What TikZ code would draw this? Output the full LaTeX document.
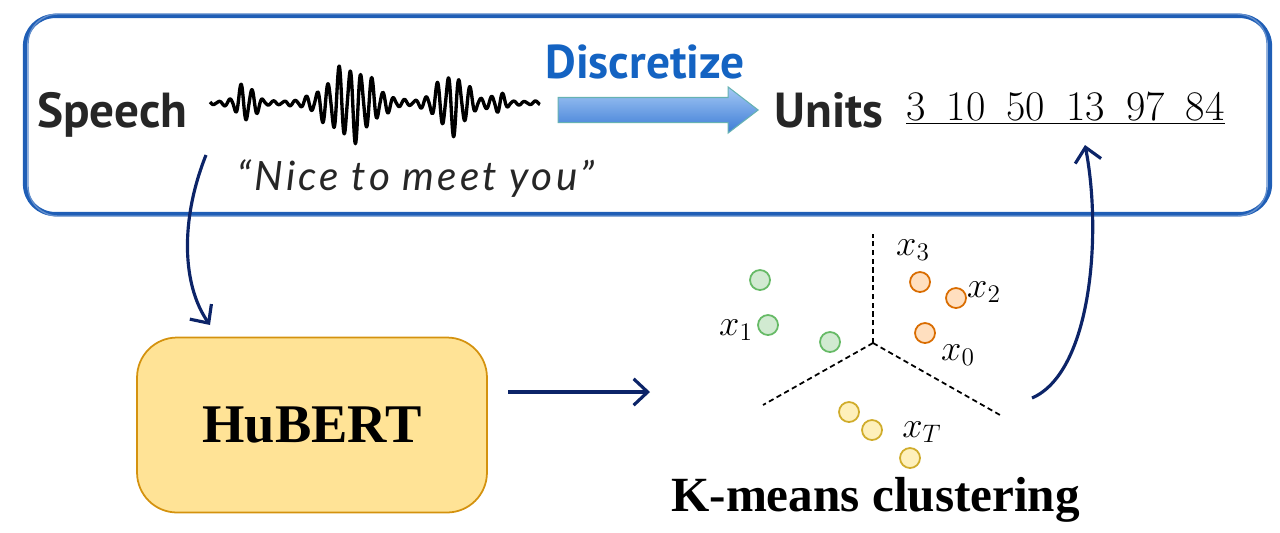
\documentclass[tikz,border=0pt]{standalone}
\usepackage{fontspec}
\usepackage{tikz}
\usetikzlibrary{arrows.meta, positioning, shapes.arrows}

\newfontfamily\sansfont{PT Sans}
\newfontfamily\quotefont{Lato}
\newfontfamily\titlefont{Liberation Serif}

\definecolor{frameblue}{HTML}{1F5EB6}
\definecolor{discblue}{HTML}{1463C2}
\definecolor{arrowtop}{HTML}{A4C8F4}
\definecolor{arrowbot}{HTML}{3C7CD6}
\definecolor{navy}{HTML}{0C2468}
\definecolor{hubfill}{HTML}{FFE396}
\definecolor{hubdraw}{HTML}{D4920E}

\tikzset{
  bigword/.style={font=\sansfont\bfseries\fontsize{28}{30}\selectfont, text=black!85, inner sep=0pt},
  flow/.style={-{Straight Barb[length=8pt,width=15pt]}, line width=1.8pt, draw=navy},
  dot/.style={circle, minimum size=0.4cm, inner sep=0pt, line width=1pt},
  greendot/.style={dot, fill=green!55!black!18, draw=green!55!black!60},
  orangedot/.style={dot, fill=orange!25, draw=orange!85!black},
  yellowdot/.style={dot, fill=yellow!60!orange!25, draw=yellow!60!orange!80!black},
  xlabel/.style={font=\fontsize{20}{22}\selectfont, inner sep=0pt},
  border/.style={dashed, line width=1pt, dash pattern=on 3pt off 2pt}
}

\begin{document}
\begin{tikzpicture}[x=0.02cm, y=-0.02cm,
    declare function={g(\a,\c,\w)=exp(-min(((\a-\c)/\w)^2,9));}]
    \useasboundingbox (0,0) rectangle (1280,532);

    % sketchy frame round the top row
    \draw[frameblue, line width=2.4pt, rounded corners=0.6cm] (25,16) rectangle (1270,214);
    \draw[frameblue!70, line width=0.8pt, rounded corners=0.6cm] (28,14) rectangle (1267,216);

    % top row
    \node[bigword, anchor=base west] (speech) at (37,127) {Speech};
    \draw[line width=1.9pt, line join=round] plot[domain=210:540, samples=700]
        (\x, {103 + (2 + 20*g(\x,246,12) + 40*g(\x,350,30) + 32*g(\x,452,20) + 10*g(\x,498,9))
              *(0.5+0.5*abs(sin(11*(\x-200))))*sin(33*(\x-200))});
    \node[font=\quotefont\itshape\fontsize{23}{26}\selectfont\addfontfeature{LetterSpace=8},
          text=black!85, anchor=base west, inner sep=0pt]
        (quote) at (237,190) {“Nice to meet you”};

    \node[font=\sansfont\bfseries\fontsize{27}{30}\selectfont, text=discblue, anchor=base west, inner sep=0pt]
        (disc) at (545,78) {Discretize};
    \node[single arrow, minimum height=4cm, minimum width=0.9cm, inner sep=0.24cm,
          single arrow head extend=0.21cm, single arrow tip angle=75,
          top color=arrowtop, bottom color=arrowbot,
          draw=teal!60, line width=0.6pt] (discarrow) at (650,110) {};

    \node[bigword, anchor=base west] (units) at (774,127) {Units};
    \node[font=\fontsize{24}{26}\selectfont, anchor=base west, inner sep=0pt]
        (seq) at (906,120) {\underline{3\hspace{0.5em}10\hspace{0.5em}50\hspace{0.5em}13\hspace{0.5em}97\hspace{0.5em}84}};

    % bottom row
    \node[draw=hubdraw, fill=hubfill, line width=1pt, rounded corners=0.8cm,
          minimum width=7cm, minimum height=3.5cm,
          font=\titlefont\bfseries\fontsize{31}{34}\selectfont] (hubert) at (312,425) {HuBERT};

    \coordinate (ctr) at (873,343);
    \draw[border] (ctr) -- (873,234);
    \draw[border] (ctr) -- (763,405);
    \draw[border] (ctr) -- (1000,415);

    \node[greendot] (g1) at (760,280) {};
    \node[greendot] (g2) at (768,325) {};
    \node[greendot] (g3) at (830,342) {};
    \node[orangedot] (o1) at (920,282) {};
    \node[orangedot] (o2) at (956,298) {};
    \node[orangedot] (o3) at (925,333) {};
    \node[yellowdot] (y1) at (849,412) {};
    \node[yellowdot] (y2) at (872,430) {};
    \node[yellowdot] (y3) at (910,458) {};

    \node[xlabel] (lx3) at (913,250) {$x_3$};
    \node[xlabel] (lx2) at (984,292) {$x_2$};
    \node[xlabel] (lx1) at (736,330) {$x_1$};
    \node[xlabel] (lx0) at (958,355) {$x_0$};
    \node[xlabel] (lxT) at (922,432) {$x_T$};

    \node[font=\titlefont\bfseries\fontsize{28}{30}\selectfont, anchor=base west, inner sep=0pt]
        (kmeans) at (671,511) {K-means clustering};

    % connectors
    \coordinate (wavefoot) at (206,155);
    \coordinate (hubtop) at (210,325);
    \coordinate (hubout) at (508,392);
    \coordinate (kmin) at (650,392);
    \coordinate (kmout) at (1032,398);
    \coordinate (seqin) at (1085,145);
    \draw[flow] (wavefoot) .. controls (180,220) and (182,285) .. (hubtop);
    \draw[flow] (hubout) -- (kmin);
    \draw[flow] (kmout) .. controls (1092,372) and (1102,232) .. (seqin);
\end{tikzpicture}
\end{document}
